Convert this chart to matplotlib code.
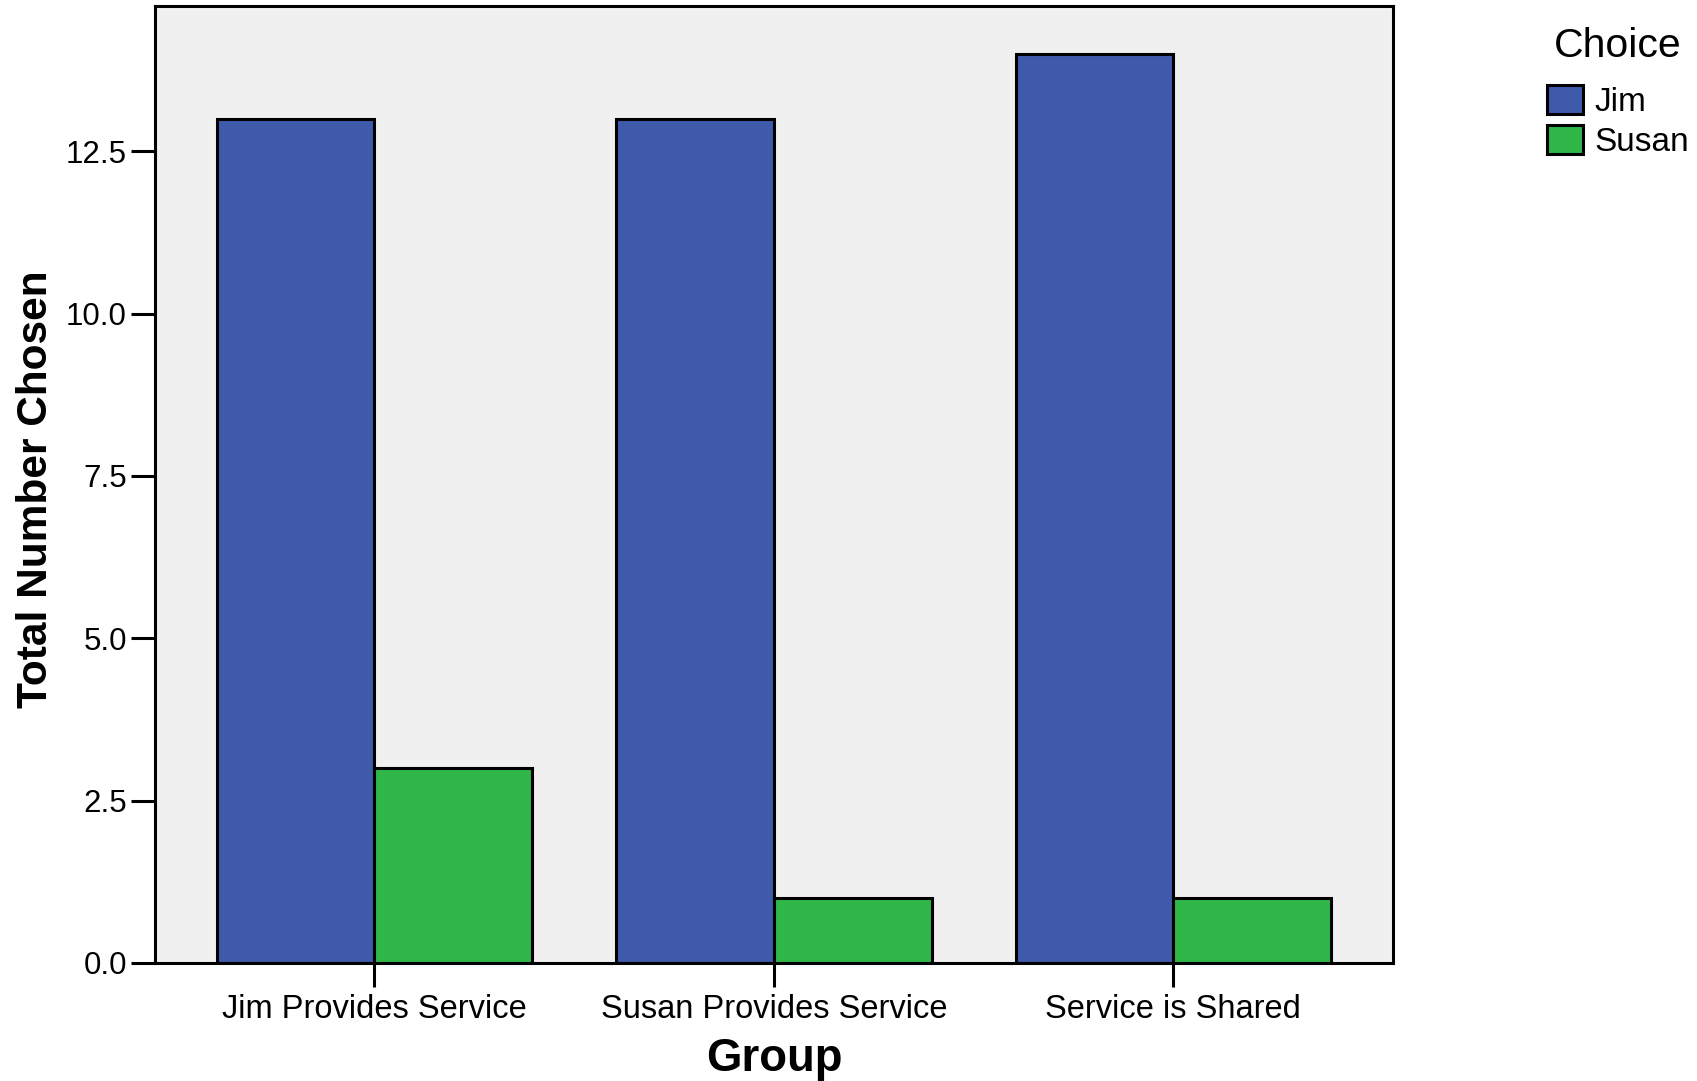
import matplotlib
matplotlib.use('Agg')
import matplotlib.pyplot as plt
import numpy as np

plt.rcParams['font.family'] = ['Liberation Sans', 'DejaVu Sans']

groups = ['Jim Provides Service', 'Susan Provides Service', 'Service is Shared']
choices = ['Jim', 'Susan']
jim_counts = [13, 13, 14]
susan_counts = [3, 1, 1]
yticks = [0.0, 2.5, 5.0, 7.5, 10.0, 12.5]

blue = '#3F59AB'
green = '#2FB74A'

fig = plt.figure(figsize=(16.97, 10.81), dpi=100)
ax = fig.add_axes([0.0912, 0.1092, 0.8209 - 0.0912, 0.994 - 0.1092])
ax.set_facecolor('#F0F0F0')

x = np.arange(len(groups))
width = 0.395
ax.bar(x - width / 2, jim_counts, width, color=blue, edgecolor='black',
       linewidth=2.2, label=choices[0], zorder=2)
ax.bar(x + width / 2, susan_counts, width, color=green, edgecolor='black',
       linewidth=2.2, label=choices[1], zorder=2)

ax.set_xlim(-0.55, 2.55)
ax.set_ylim(0, 14.73)
ax.set_yticks(yticks)
ax.set_yticklabels([f'{t:.1f}' for t in yticks])
ax.set_xticks(x)
ax.set_xticklabels(groups)

for s in ax.spines.values():
    s.set_linewidth(2.2)
    s.set_zorder(3)

ax.tick_params(axis='y', length=17, width=2.2, labelsize=22.5, pad=3)
ax.tick_params(axis='x', length=17, width=2.2, labelsize=23.5, pad=5)

ax.set_xlabel('Group', fontsize=32.8, fontweight='bold')
ax.set_ylabel('Total Number Chosen', fontsize=30.5, fontweight='bold')
ax.xaxis.set_label_coords(0.5, -0.077)
ax.yaxis.set_label_coords(-0.08, 0.495)

leg = ax.legend(loc='upper left', bbox_to_anchor=(0.8863, 1.014),
                bbox_transform=fig.transFigure, frameon=False,
                title='Choice', fontsize=24, title_fontsize=29.5,
                handlelength=1.1, handleheight=0.95, handletextpad=0.35,
                borderpad=0.775, labelspacing=0.22, alignment='center')
# more room between title and entries than between entries
leg._legend_box.sep = 14
for h in leg.legend_handles:
    h.set_linewidth(2.2)

fig.savefig('out.png', dpi=100)
